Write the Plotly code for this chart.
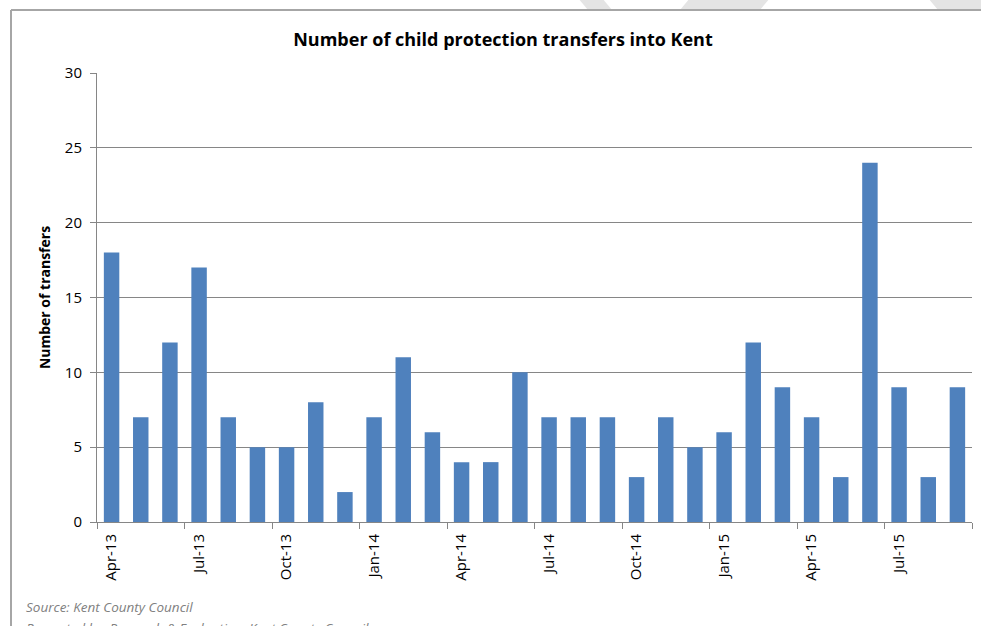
import plotly.graph_objects as go

# Monthly child protection transfers into Kent, Apr 2013 - Sep 2015
months = ["Apr-13", "May-13", "Jun-13", "Jul-13", "Aug-13", "Sep-13",
          "Oct-13", "Nov-13", "Dec-13", "Jan-14", "Feb-14", "Mar-14",
          "Apr-14", "May-14", "Jun-14", "Jul-14", "Aug-14", "Sep-14",
          "Oct-14", "Nov-14", "Dec-14", "Jan-15", "Feb-15", "Mar-15",
          "Apr-15", "May-15", "Jun-15", "Jul-15", "Aug-15", "Sep-15"]
transfers = [18, 7, 12, 17, 7, 5, 5, 8, 2, 7, 11, 6, 4, 4, 10,
             7, 7, 7, 3, 7, 5, 6, 12, 9, 7, 3, 24, 9, 3, 9]
y_ticks = [0, 5, 10, 15, 20, 25, 30]

W, H = 981, 626
L, R, T, B = 97, 9, 73, 104
PW, PH = W - L - R, H - T - B


def px(x):
    return (x - L) / PW


def py(y):
    return (H - B - y) / PH


FONT = "Open Sans"
idx = list(range(len(months)))
label_idx = idx[::3]

fig = go.Figure(go.Bar(
    x=idx, y=transfers,
    marker=dict(color="#4F81BD", line=dict(width=0)),
    hoverinfo="skip",
))

fig.update_layout(
    width=W, height=H,
    margin=dict(l=L, r=R, t=T, b=B),
    paper_bgcolor="white", plot_bgcolor="white",
    bargap=0.47,
    showlegend=False,
    font=dict(family=FONT, color="#000000"),
    title=dict(
        text="<b>Number of child protection transfers into Kent</b>",
        font=dict(family=FONT, size=18, color="#000000"),
        x=px(503), xref="paper", xanchor="center",
        y=1 - 40 / H, yref="container", yanchor="middle",
    ),
    xaxis=dict(
        range=[-0.5, len(months) - 0.5],
        tickmode="array", tickvals=label_idx,
        ticktext=[months[i] for i in label_idx],
        tickangle=-90, ticks="", showgrid=False, zeroline=False,
        showline=True, linecolor="#868686", linewidth=1,
        ticklabelstandoff=5,
        tickfont=dict(family=FONT, size=15, color="#000000"),
        minor=dict(tickmode="array",
                   tickvals=[i - 0.5 for i in idx[::3]] + [len(months) - 0.5],
                   ticks="outside", ticklen=6, tickcolor="#868686",
                   showgrid=False),
    ),
    yaxis=dict(
        range=[0, 30], tickvals=y_ticks,
        ticks="outside", ticklen=6, tickcolor="#868686",
        showgrid=True, gridcolor="#868686", gridwidth=1,
        zeroline=False, showline=True, linecolor="#868686", linewidth=1,
        ticklabelstandoff=5,
        tickfont=dict(family=FONT, size=15, color="#000000"),
        title=dict(text="<b>Number of transfers</b>",
                   font=dict(family=FONT, size=14, color="#000000"),
                   standoff=10),
    ),
)

# Document frame around the chart
fig.add_shape(type="line", xref="paper", yref="paper",
              x0=px(11), x1=px(1000), y0=py(10), y1=py(10),
              line=dict(color="#A6A6A6", width=2))
fig.add_shape(type="line", xref="paper", yref="paper",
              x0=px(11), x1=px(11), y0=py(10), y1=py(640),
              line=dict(color="#A6A6A6", width=2))

# Faint diagonal page watermark strips along the top edge
for pts in [[(578, -2), (602, -2), (612, 10), (588, 10)],
            [(690, -2), (770, -2), (760, 10), (680, 10)],
            [(928, -2), (985, -2), (985, 10), (938, 10)]]:
    path = "M " + " L ".join(f"{px(a)},{py(b)}" for a, b in pts) + " Z"
    fig.add_shape(type="path", xref="paper", yref="paper", path=path,
                  fillcolor="#E4E4E4", line=dict(width=0), layer="below")

# Footer notes (the second line runs off the bottom of the page)
fig.add_annotation(text="<i>Source: Kent County Council</i>",
                   xref="paper", yref="paper", x=px(24), y=py(607),
                   xanchor="left", yanchor="middle", showarrow=False,
                   font=dict(family=FONT, size=13.5, color="#808080"))
fig.add_annotation(text="<i>Presented by: Research &amp; Evaluation, Kent County Council</i>",
                   xref="paper", yref="paper", x=px(24), y=py(628),
                   xanchor="left", yanchor="middle", showarrow=False,
                   font=dict(family=FONT, size=13.5, color="#808080"))

fig.write_html("out.html")
